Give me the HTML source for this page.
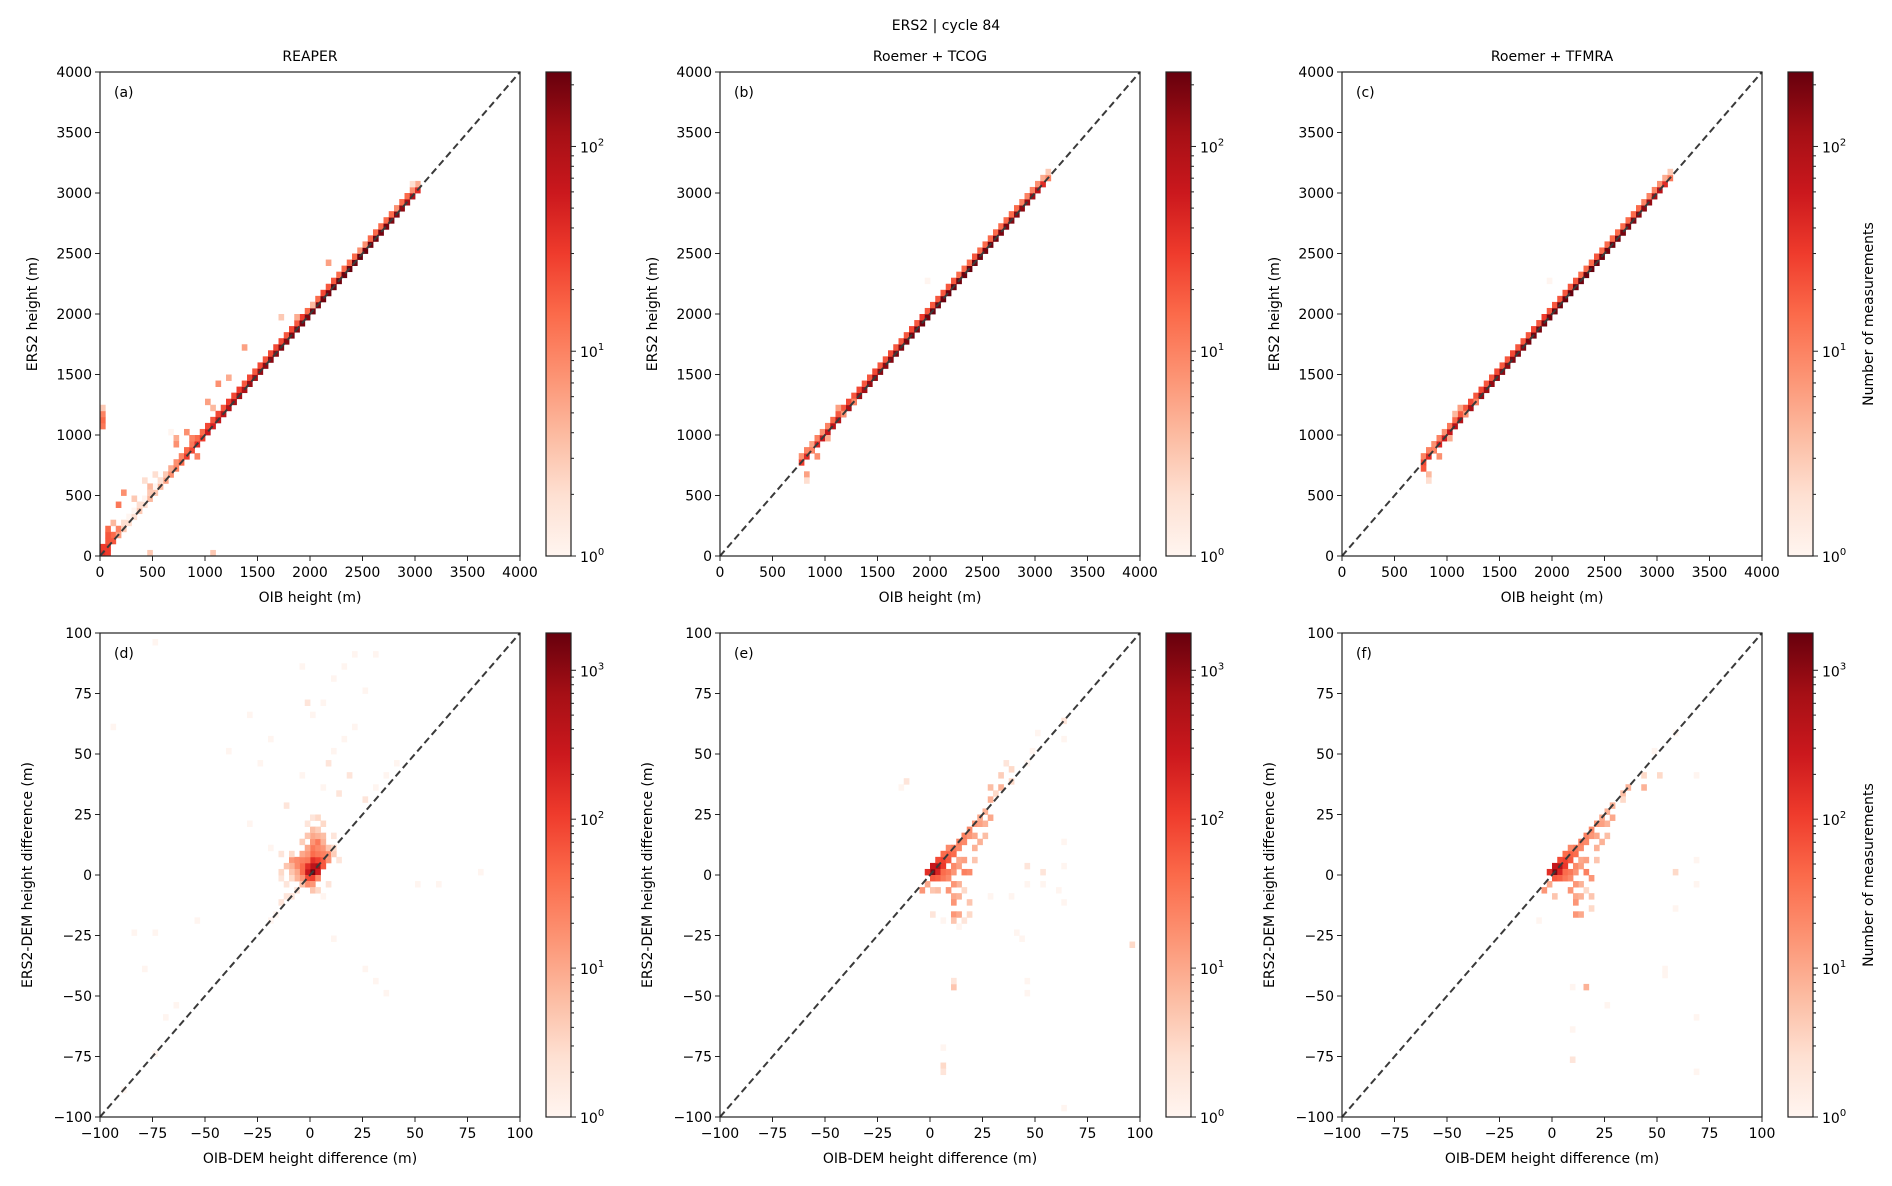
<!DOCTYPE html>
<html><head><meta charset="utf-8">
<style>
html,body{margin:0;padding:0;background:#fff;}
svg{display:block;font-family:"DejaVu Sans","Liberation Sans",sans-serif;}
</style></head>
<body>
<svg id="fig" width="1892" height="1186" xmlns="http://www.w3.org/2000/svg">
<defs>
<linearGradient id="reds" x1="0" y1="1" x2="0" y2="0">
<stop offset="0" stop-color="#fff5f0"/><stop offset="0.125" stop-color="#fee0d2"/><stop offset="0.25" stop-color="#fcbba1"/><stop offset="0.375" stop-color="#fc9272"/><stop offset="0.5" stop-color="#fb6a4a"/><stop offset="0.625" stop-color="#ef3b2c"/><stop offset="0.75" stop-color="#cb181d"/><stop offset="0.875" stop-color="#a50f15"/><stop offset="1" stop-color="#67000d"/>
</linearGradient>
</defs>
<text x="946" y="30" text-anchor="middle" font-size="14">ERS2 | cycle 84</text>
</svg>
<script>
// ---- data ----
const topTicks = [0,500,1000,1500,2000,2500,3000,3500,4000];
const botTicks = [-100,-75,-50,-25,0,25,50,75,100];
const botTickLabels = ["\u2212100","\u221275","\u221250","\u221225","0","25","50","75","100"];
const panelTitles = ["REAPER","Roemer + TCOG","Roemer + TFMRA"];
const panelLetters = ["(a)","(b)","(c)","(d)","(e)","(f)"];

// panel a: diagonal 50 m bins
const aDiagX = [0,50,100,150,200,250,300,350,400,450,500,550,600,650,700,750,800,850,900,950,1000,1050,1100,1150,1200,1250,1300,1350,1400,1450,1500,1550,1600,1650,1700,1750,1800,1850,1900,1950,2000,2050,2100,2150,2200,2250,2300,2350,2400,2450,2500,2550,2600,2650,2700,2750,2800,2850,2900,2950,3000];
const aDiagC = [40,30,20,6,3,2,2,3,2,4,3,4,6,8,10,15,30,25,40,30,60,50,70,80,90,110,120,100,130,120,140,150,160,150,170,160,180,170,190,180,200,190,210,200,220,210,220,230,220,230,220,210,200,200,190,180,170,150,120,90,40];
const aUpC   = [30,20,15,10,2,1,1,2,1,2,1,2,3,5,8,10,15,12,15,15,25,20,25,20,30,25,30,20,25,20,25,20,25,25,25,20,25,20,30,15,20,15,25,20,20,15,15,15,15,8,8,15,15,15,15,15,8,15,15,8,5];
const aExX = [0,0,0,0,50,50,150,200,300,350,400,450,450,500,550,650,700,700,800,850,900,1000,1050,1100,1200,1350,1700,1850,2150,2000,450,1050,2950,50,100];
const aExY = [1050,1100,1150,1200,150,200,400,500,450,400,600,550,500,650,600,1000,950,900,1000,950,800,1250,1200,1400,1450,1700,1950,1950,2400,2050,0,0,3050,0,250];
const aExC = [12,15,10,3,20,15,12,8,3,2,2,4,3,2,2,1,5,8,8,10,10,6,4,8,5,6,3,5,6,4,3,3,2,30,4];

// panels b & c: diagonal 50 m bins
const bDiagX = [750,800,850,900,950,1000,1050,1100,1150,1200,1250,1300,1350,1400,1450,1500,1550,1600,1650,1700,1750,1800,1850,1900,1950,2000,2050,2100,2150,2200,2250,2300,2350,2400,2450,2500,2550,2600,2650,2700,2750,2800,2850,2900,2950,3000,3050,3100];
const bDiagC = [30,40,35,45,60,70,80,90,100,110,120,130,120,140,150,160,150,170,180,170,190,200,190,210,200,220,210,220,230,220,210,220,230,220,210,200,210,200,190,180,170,160,150,140,120,80,40,10];
const bUpC   = [8,10,6,10,8,10,15,20,20,25,20,25,20,20,25,20,20,25,20,20,20,25,20,30,20,20,20,20,20,20,15,15,15,20,15,15,15,15,15,15,15,15,10,10,10,8,5,3];
const bExX = [800,800,850,900,1100,1150,1250,1950,1000];
const bExY = [650,600,850,800,1200,1150,1250,2250,950];
const bExC = [6,2,10,8,6,8,10,1,5];
const cDiagC = [25,40,35,45,55,70,85,90,100,110,115,130,125,140,150,155,150,170,175,170,195,200,190,205,200,215,210,225,230,220,215,220,230,225,210,205,210,200,195,180,175,160,150,140,120,85,40,12];
const cUpC   = [10,10,8,10,8,12,15,20,20,25,20,25,20,20,25,20,20,25,20,20,20,25,20,30,20,20,20,20,20,20,15,15,15,20,15,15,15,15,15,15,15,15,10,10,10,8,5,3];
const cExX = [750,800,800,850,900,1050,1100,1150,1250,1950,1000];
const cExY = [700,650,600,850,800,1150,1200,1150,1250,2250,950];
const cExC = [20,4,2,10,8,4,6,8,10,1,5];

// panel d: 2.5 m bins (lower-left corner)
const dX = [0,2.5,0,-2.5,2.5,-2.5,0,2.5,-2.5,0,5,5,-5,-5,-7.5,-10,-7.5,-5,-2.5,0,2.5,5,-2.5,0,2.5,-2.5,0,2.5,5,-5,5,7.5,7.5,-10,-12.5,-7.5,-10,-5,-7.5,-2.5,0,2.5,-5,0,2.5,-10,-12.5,-15,-15,0,2.5,-2.5,5,0,2.5,-5,7.5,10,10,-10,-15,5,-2.5,0,2.5,10,12.5,-7.5,-12.5,-15,-17.5,-20,5,7.5,5,7.5,10,-5,15,20,0,-2.5,5,10,15,-5,20,25,30,35,40,25,30,-25,-30,-40,-20,-75,-95,-55,-75,-85,-80,-65,-70,-90,-75,-10,50,60,80,25,30,35,-12.5,12.5,17.5,-20,-30,10];
const dY = [0,2.5,2.5,0,0,2.5,5,5,-2.5,-2.5,5,2.5,0,2.5,2.5,5,5,5,5,7.5,7.5,7.5,7.5,10,10,10,12.5,12.5,10,7.5,12.5,7.5,5,2.5,2.5,0,0,-2.5,-2.5,-5,-5,-2.5,-5,-7.5,-7.5,-2.5,-5,-2.5,0,15,15,15,15,17.5,17.5,12.5,10,7.5,10,7.5,7.5,20,20,22.5,22.5,15,5,-7.5,-10,-12.5,-17.5,-20,-10,-5,35,45,50,40,55,60,65,70,70,80,85,85,90,30,35,40,45,75,90,45,65,50,55,95,60,-20,-25,-25,-40,-55,-60,-90,-75,-10,-5,-5,0,-40,-45,-50,27.5,32.5,40,10,20,-27.5];
const dC = [1500,600,400,300,250,150,150,100,80,100,60,60,40,40,20,15,20,25,30,40,30,25,15,30,20,10,15,30,15,10,8,20,15,8,5,10,5,15,8,20,15,20,6,5,3,3,2,2,3,10,8,5,6,6,4,4,5,4,3,3,2,3,2,2,3,2,2,2,2,2,1,1,1,2,1,2,1,1,1,1,1,2,1,1,1,1,1,2,1,1,1,1,1,1,1,1,1,1,1,1,1,1,1,1,1,1,1,2,1,1,1,1,1,1,2,2,2,1,1,1];

// panel e
const eX = [0,2.5,0,-2.5,2.5,5,5,2.5,7.5,7.5,10,10,7.5,5,12.5,12.5,15,15,17.5,17.5,20,20,22.5,22.5,25,25,0,2.5,5,5,7.5,7.5,10,10,12.5,12.5,15,15,17.5,12.5,10,7.5,10,12.5,10,10,12.5,10,15,-2.5,-5,0,2.5,17.5,17.5,15,20,20,22.5,25,27.5,27.5,27.5,30,32.5,32.5,37.5,37.5,35,45,47.5,50,62.5,62.5,45,45,52.5,52.5,60,62.5,62.5,62.5,40,42.5,95,5,0,-15,-12.5,10,10,45,45,5,5,5,62.5,12.5,27.5,37.5];
const eY = [0,2.5,2.5,0,0,2.5,5,5,5,7.5,7.5,10,10,7.5,10,12.5,12.5,15,15,17.5,15,20,20,22.5,20,25,-2.5,-2.5,-2.5,0,0,-2.5,0,2.5,2.5,5,5,0,0,-5,-5,-7.5,-10,-10,-12.5,-17.5,-17.5,-20,-7.5,-5,-7.5,-7.5,-7.5,-12.5,-17.5,-20,5,10,12.5,15,22.5,30,35,32.5,40,35,37.5,42.5,45,45,50,57.5,62.5,55,-5,2.5,0,-5,-7.5,-12.5,12.5,2.5,-25,-27.5,-30,-20,-17.5,35,37.5,-47.5,-45,-45,-50,-72.5,-80,-82.5,-97.5,-22.5,-10,-10];
const eC = [1200,500,300,150,200,120,100,80,60,50,40,30,20,40,20,25,20,25,15,20,10,15,12,10,8,8,60,50,30,40,30,20,15,20,12,10,12,25,20,8,15,15,10,8,15,15,10,5,3,10,15,5,6,5,3,2,5,8,8,6,10,8,6,3,4,8,3,3,2,1,1,1,2,1,1,2,2,1,1,1,1,1,1,1,3,1,2,1,2,5,2,1,1,1,3,2,1,1,1,1];

// panel f
const fX = [0,2.5,0,-2.5,2.5,5,5,2.5,7.5,7.5,10,10,7.5,5,12.5,12.5,15,15,17.5,17.5,20,20,22.5,22.5,25,25,0,2.5,5,5,7.5,7.5,10,10,12.5,12.5,15,15,17.5,12.5,10,7.5,10,12.5,10,10,12.5,15,-2.5,-5,0,17.5,17.5,20,20,22.5,25,27.5,27.5,32.5,32.5,35,42.5,42.5,50,47.5,57.5,57.5,67.5,67.5,67.5,57.5,52.5,52.5,15,8.5,8.5,8.5,67.5,67.5,25,-7.5];
const fY = [0,2.5,2.5,0,0,2.5,5,5,5,7.5,7.5,10,10,7.5,10,12.5,12.5,15,15,17.5,15,20,20,22.5,20,25,-2.5,-2.5,-2.5,0,0,-2.5,0,2.5,2.5,5,5,0,-2.5,-5,-5,-7.5,-10,-10,-12.5,-17.5,-17.5,-7.5,-5,-7.5,-10,-10,-15,5,10,12.5,15,22.5,27.5,32.5,30,35,35,40,40,50,57.5,0,-5,5,40,-15,-40,-42.5,-47.5,-47.5,-65,-77.5,-82.5,-60,-55,-20,-10];
const fC = [1300,500,320,150,200,120,100,80,60,50,40,30,20,40,20,25,20,25,15,20,10,15,12,10,8,8,60,50,30,40,30,20,15,20,12,10,12,25,15,8,15,15,10,8,15,15,10,3,10,15,5,5,3,5,8,8,6,10,8,6,3,8,8,3,3,1,1,3,1,1,1,1,1,1,8,1,1,2,1,1,1,1];

// ---- rendering ----
const svg = document.getElementById('fig');
const NS = 'http://www.w3.org/2000/svg';
const stops = [[0,[255,245,240]],[0.125,[254,224,210]],[0.25,[252,187,161]],[0.375,[252,146,114]],[0.5,[251,106,74]],[0.625,[239,59,44]],[0.75,[203,24,29]],[0.875,[165,15,21]],[1,[103,0,13]]];
function reds(t){t=Math.max(0,Math.min(1,t));for(let i=1;i<stops.length;i++){if(t<=stops[i][0]){const a=stops[i-1],b=stops[i];const f=(t-a[0])/(b[0]-a[0]);const c=a[1].map((v,k)=>Math.round(v+(b[1][k]-v)*f));return 'rgb('+c.join(',')+')';}}return 'rgb(103,0,13)';}
function mk(tag,attrs,parent){const e=document.createElementNS(NS,tag);for(const k in attrs)e.setAttribute(k,attrs[k]);(parent||svg).appendChild(e);return e;}

const colLeft=[100,720,1342];
const W=420,H=484;
const rowTop=[72,633];

function drawPanel(idx,col,row,min,max,ticks,tickLabels,cells,vmax,xlabel,ylabel,binSize){
  const L=colLeft[col],T=rowTop[row];
  const g=mk('g',{});
  
  
  const sx=v=>L+(v-min)/(max-min)*W;
  const sy=v=>T+H-(v-min)/(max-min)*H;
  const lv=Math.log10(vmax);
  for(let i=0;i<cells.x.length;i++){
    const x0=sx(cells.x[i]),x1=sx(cells.x[i]+binSize),y0=sy(cells.y[i]+binSize),y1=sy(cells.y[i]);
    const r=mk('rect',{x:x0,y:y0,width:x1-x0+0.4,height:y1-y0+0.4,fill:reds(Math.log10(cells.c[i])/lv)},g);
    
    
  }
  const dl=mk('line',{x1:sx(min),y1:sy(min),x2:sx(max),y2:sy(max),stroke:'#3a3a3a','stroke-width':2,'stroke-dasharray':'7,4'},g);
  
  
  const fr=mk('rect',{x:L,y:T,width:W,height:H,fill:'none',stroke:'#222','stroke-width':1.2},g);
  
  
  ticks.forEach((t,i)=>{
    mk('line',{x1:sx(t),y1:T+H,x2:sx(t),y2:T+H+5,stroke:'#222'},g);
    const xt=mk('text',{x:sx(t),y:T+H+21,'text-anchor':'middle','font-size':14},g);
    xt.textContent=tickLabels[i];
    
    
    mk('line',{x1:L-5,y1:sy(t),x2:L,y2:sy(t),stroke:'#222'},g);
    const yt=mk('text',{x:L-8,y:sy(t)+5,'text-anchor':'end','font-size':14},g);
    yt.textContent=tickLabels[i];
    
    
  });
  const lt=mk('text',{x:L+14,y:T+25,'font-size':14},g);lt.textContent=panelLetters[idx];
  
  
  const xl=mk('text',{x:L+W/2,y:T+H+46,'text-anchor':'middle','font-size':14},g);xl.textContent=xlabel;
  
  
  const yx=L-63+(row?-5:0);
  const yl=mk('text',{x:yx,y:T+H/2,'text-anchor':'middle','font-size':14,transform:'rotate(-90 '+yx+' '+(T+H/2)+')'},g);yl.textContent=ylabel;
  
  
  if(row===0){const tt=mk('text',{x:L+W/2,y:T-11,'text-anchor':'middle','font-size':14},g);tt.textContent=panelTitles[col];
    
    }
  // colorbar
  const cx=L+446,cw=25;
  const cb=mk('g',{},g);
  
  
  mk('rect',{x:cx,y:T,width:cw,height:H,fill:'url(#reds)',stroke:'#222','stroke-width':1.2},cb);
  const maxDec=Math.floor(lv);
  for(let d=0;d<=maxDec;d++){
    for(let m=1;m<10;m++){
      const v=Math.log10(m*Math.pow(10,d));if(v>lv)break;
      const yy=T+H-v/lv*H;
      mk('line',{x1:cx+cw,y1:yy,x2:cx+cw+(m===1?5:3),y2:yy,stroke:'#222'},cb);
      if(m===1){const t=mk('text',{x:cx+cw+9,y:yy+6,'font-size':14},cb);
        t.innerHTML='10<tspan dy="-7" font-size="10">'+d+'</tspan>';
        
        }
    }
  }
  if(col===2){const lx=cx+cw+60;const cl=mk('text',{x:lx,y:T+H/2,'text-anchor':'middle','font-size':14,transform:'rotate(-90 '+lx+' '+(T+H/2)+')'},cb);cl.textContent='Number of measurements';
    
    }
}
function topCells(dx,dc,uc,ex,ey,ec){const x=[],y=[],c=[];dx.forEach((v,i)=>{x.push(v);y.push(v);c.push(dc[i]);x.push(v);y.push(v+50);c.push(uc[i]);});return {x:x.concat(ex),y:y.concat(ey),c:c.concat(ec)};}
const topLbl=topTicks.map(String);
drawPanel(0,0,0,0,4000,topTicks,topLbl,topCells(aDiagX,aDiagC,aUpC,aExX,aExY,aExC),231,'OIB height (m)','ERS2 height (m)',50);
drawPanel(1,1,0,0,4000,topTicks,topLbl,topCells(bDiagX,bDiagC,bUpC,bExX,bExY,bExC),231,'OIB height (m)','ERS2 height (m)',50);
drawPanel(2,2,0,0,4000,topTicks,topLbl,topCells(bDiagX,cDiagC,cUpC,cExX,cExY,cExC),231,'OIB height (m)','ERS2 height (m)',50);
drawPanel(3,0,1,-100,100,botTicks,botTickLabels,{x:dX,y:dY,c:dC},1780,'OIB-DEM height difference (m)','ERS2-DEM height difference (m)',2.5);
drawPanel(4,1,1,-100,100,botTicks,botTickLabels,{x:eX,y:eY,c:eC},1780,'OIB-DEM height difference (m)','ERS2-DEM height difference (m)',2.5);
drawPanel(5,2,1,-100,100,botTicks,botTickLabels,{x:fX,y:fY,c:fC},1780,'OIB-DEM height difference (m)','ERS2-DEM height difference (m)',2.5);
</script>
</body></html>
